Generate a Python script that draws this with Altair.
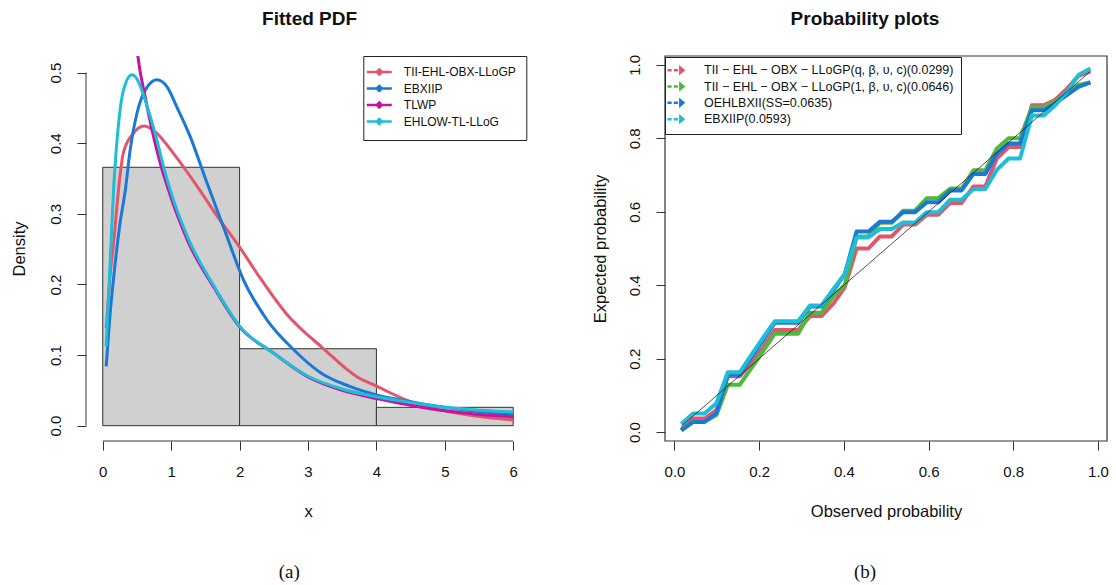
import altair as alt
import pandas as pd

# ---------------- Fitted PDF panel data ----------------
hist_left = [0, 2, 4]
hist_right = [2, 4, 6]
hist_base = [0, 0, 0]
hist_density = [0.366, 0.109, 0.026]

pdf_names = ["TII-EHL-OBX-LLoGP", "EBXIIP", "TLWP", "EHLOW-TL-LLoG"]
pdf_colors = ["#E2566B", "#1C78D6", "#C4139E", "#1EBDD8"]

tii_x = [0.05, 0.1, 0.17, 0.23, 0.3, 0.43, 0.61, 0.79, 1.03, 1.38, 1.7, 2.0, 2.26, 2.68, 3.22, 3.72, 4.0, 4.5, 5.0, 5.5, 6.0]
tii_y = [0.138, 0.205, 0.27, 0.334, 0.386, 0.412, 0.4245, 0.414, 0.386, 0.339, 0.293, 0.253, 0.215, 0.159, 0.1096, 0.069, 0.056, 0.034, 0.021, 0.013, 0.008]

ebx_x = [0.05, 0.1, 0.17, 0.25, 0.33, 0.4, 0.5, 0.62, 0.79, 0.94, 1.08, 1.28, 1.5, 1.8, 2.05, 2.4, 2.78, 3.2, 3.6, 4.0, 4.5, 5.0, 5.5, 6.0]
ebx_y = [0.084, 0.15, 0.22, 0.285, 0.334, 0.39, 0.4425, 0.475, 0.49, 0.48, 0.452, 0.409, 0.35, 0.272, 0.208, 0.15, 0.1086, 0.074, 0.056, 0.0435, 0.034, 0.026, 0.02, 0.016]

tlwp_x = [0.49, 0.514, 0.62, 0.72, 0.84, 0.96, 1.25, 1.63, 2.0, 2.5, 3.0, 3.5, 4.0, 4.5, 5.0, 5.5, 6.0]
tlwp_y = [0.545, 0.523, 0.466, 0.419, 0.372, 0.334, 0.26, 0.195, 0.14, 0.1025, 0.069, 0.05, 0.0385, 0.029, 0.021, 0.016, 0.0127]

ehl_x = [0.05, 0.1, 0.158, 0.231, 0.304, 0.426, 0.523, 0.596, 0.694, 0.79, 0.888, 0.986, 1.25, 1.63, 2.0, 2.5, 3.0, 3.5, 4.0, 4.5, 5.0, 5.5, 6.0]
ehl_y = [0.112, 0.215, 0.334, 0.428, 0.4755, 0.497, 0.487, 0.468, 0.438, 0.405, 0.367, 0.334, 0.265, 0.197, 0.141, 0.1025, 0.07, 0.052, 0.041, 0.033, 0.026, 0.022, 0.0195]

# ---------------- Probability plot panel data ----------------
pp_names = ["TII \u2212 EHL \u2212 OBX \u2212 LLoGP(q, \u03b2, \u03c5, c)(0.0299)",
            "TII \u2212 EHL \u2212 OBX \u2212 LLoGP(1, \u03b2, \u03c5, c)(0.0646)",
            "OEHLBXII(SS=0.0635)",
            "EBXIIP(0.0593)"]
pp_colors = ["#E2566B", "#4DBA3E", "#1C78D6", "#1EBDD8"]

observed = [0.016, 0.044, 0.071, 0.099, 0.126, 0.154, 0.182, 0.209, 0.237, 0.264, 0.292, 0.320,
            0.347, 0.375, 0.402, 0.430, 0.458, 0.485, 0.513, 0.540, 0.568, 0.596, 0.623, 0.651,
            0.678, 0.706, 0.734, 0.761, 0.789, 0.816, 0.844, 0.872, 0.899, 0.927, 0.954, 0.982]
exp_q = [0.007, 0.037, 0.037, 0.060, 0.152, 0.152, 0.190, 0.230, 0.278, 0.278, 0.278, 0.316,
         0.316, 0.350, 0.394, 0.500, 0.500, 0.533, 0.533, 0.565, 0.565, 0.592, 0.592, 0.624,
         0.624, 0.669, 0.669, 0.745, 0.776, 0.776, 0.890, 0.890, 0.905, 0.935, 0.970, 0.982]
exp_1 = [0.005, 0.029, 0.029, 0.047, 0.129, 0.129, 0.175, 0.220, 0.268, 0.268, 0.268, 0.325,
         0.325, 0.370, 0.400, 0.533, 0.533, 0.570, 0.570, 0.603, 0.603, 0.637, 0.637, 0.663,
         0.663, 0.713, 0.713, 0.772, 0.800, 0.800, 0.885, 0.885, 0.900, 0.925, 0.945, 0.952]
exp_oehl = [0.005, 0.028, 0.028, 0.051, 0.156, 0.156, 0.205, 0.250, 0.298, 0.298, 0.298, 0.342,
            0.342, 0.385, 0.430, 0.546, 0.546, 0.573, 0.573, 0.599, 0.599, 0.626, 0.626, 0.658,
            0.658, 0.703, 0.703, 0.758, 0.786, 0.786, 0.876, 0.876, 0.895, 0.918, 0.940, 0.952]
exp_ebx = [0.022, 0.051, 0.051, 0.079, 0.163, 0.163, 0.211, 0.257, 0.302, 0.302, 0.302, 0.345,
           0.345, 0.389, 0.430, 0.530, 0.530, 0.553, 0.553, 0.571, 0.571, 0.599, 0.599, 0.633,
           0.633, 0.662, 0.662, 0.714, 0.745, 0.745, 0.862, 0.862, 0.890, 0.927, 0.972, 0.990]
diag_pts = [0.016, 0.982]

# ---------------- layout / style ----------------
W1, W2, H = 444, 442, 385
FONT = "Liberation Sans"
AX = "#333333"
TXT = "#111111"

LEFT_SYM = "M-3.12,0H3.12M0,-0.63L0.63,0L0,0.63L-0.63,0Z"
RIGHT_SYM = "M-2.7,0H-1.65M-1.12,0H-0.08M0.52,-0.63L1.27,0L0.52,0.63Z"

# ---------- left panel ----------
xs1 = alt.Scale(domain=[-0.245, 6.245], nice=False, zero=False)
ys1 = alt.Scale(domain=[-0.0217, 0.5236], nice=False, zero=False)
x_axis1 = alt.Axis(values=[0, 1, 2, 3, 4, 5, 6], format="d", title="x", domain=False,
                   tickSize=9, tickColor=AX, labelPadding=21.7, labelBaseline="middle",
                   titleY=70.7, titleBaseline="middle")
y_axis1 = alt.Axis(values=[0, 0.1, 0.2, 0.3, 0.4, 0.5], format=".1f", title="Density",
                   domain=False, tickSize=9, tickColor=AX, labelAngle=270, labelAlign="center",
                   labelBaseline="middle", labelPadding=22, titleAngle=270, titleX=-67,
                   titleY=H / 2, titleAlign="center", titleBaseline="middle")

left_legend = alt.Legend(title=None, orient="none", legendX=277.3, legendY=0,
                         direction="vertical", strokeColor="#222222", fillColor="white",
                         padding=10, cornerRadius=0, symbolType=LEFT_SYM, symbolSize=64,
                         symbolStrokeWidth=2.5, labelOffset=18.5, labelFont=FONT,
                         labelFontSize=12, labelColor=TXT, rowPadding=0.5, labelLimit=400)
left_color = alt.Scale(domain=pdf_names, range=pdf_colors)

hist_df = pd.DataFrame({"x0": hist_left, "x1": hist_right, "y0": hist_base, "d": hist_density})
bars = alt.Chart(hist_df).mark_rect(fill="#D0D0D0", stroke=AX, strokeWidth=1).encode(
    x=alt.X("x0:Q", scale=xs1, axis=x_axis1), x2="x1:Q",
    y=alt.Y("y0:Q", scale=ys1, axis=y_axis1), y2="d:Q")


def pdf_curve(xv, yv, name, clip=False):
    df = pd.DataFrame({"x": xv, "y": yv, "model": [name] * len(xv)})
    return alt.Chart(df).mark_line(strokeWidth=3, interpolate="monotone", clip=clip).encode(
        x=alt.X("x:Q", scale=xs1, axis=x_axis1),
        y=alt.Y("y:Q", scale=ys1, axis=y_axis1),
        color=alt.Color("model:N", scale=left_color, legend=left_legend, sort=pdf_names))


c_tii = pdf_curve(tii_x, tii_y, pdf_names[0])
c_ebx = pdf_curve(ebx_x, ebx_y, pdf_names[1])
c_tlwp = pdf_curve(tlwp_x, tlwp_y, pdf_names[2], clip=True)
c_ehl = pdf_curve(ehl_x, ehl_y, pdf_names[3])

one = pd.DataFrame({"k": [0]})
x_line = alt.Chart(one).mark_rule(color=AX, strokeWidth=1).encode(
    x=alt.datum(0), x2=alt.datum(6), y=alt.value(H))
y_line = alt.Chart(one).mark_rule(color=AX, strokeWidth=1).encode(
    x=alt.value(0), y=alt.datum(0), y2=alt.datum(0.5))
anchor_tl = alt.Chart(one).mark_rule(strokeOpacity=0, strokeWidth=1).encode(
    x=alt.value(-85.2), y=alt.value(-55.5), y2=alt.value(-55))
title_a = alt.Chart(one).mark_text(text="Fitted PDF", font=FONT, fontSize=19, fontWeight="bold",
                                   color=TXT, baseline="alphabetic", align="center").encode(
    x=alt.value(W1 / 2 + 1.6), y=alt.value(-31.5))
cap_a = alt.Chart(one).mark_text(text="(a)", font="Liberation Serif", fontSize=19,
                                 color=TXT, baseline="middle").encode(
    x=alt.value(203.3), y=alt.value(516))

left = alt.layer(bars, c_tii, c_ebx, c_tlwp, c_ehl, x_line, y_line, anchor_tl, title_a,
                 cap_a).properties(width=W1, height=H)

# ---------- right panel ----------
xs2 = alt.Scale(domain=[-0.0224, 1.0213], nice=False, zero=False)
ys2 = alt.Scale(domain=[-0.024, 1.024], nice=False, zero=False)
x_axis2 = alt.Axis(values=[0, 0.2, 0.4, 0.6, 0.8, 1.0], format=".1f", title="Observed probability",
                   domain=False, tickSize=9, tickColor=AX, labelPadding=21.7,
                   labelBaseline="middle", titleY=70.7, titleBaseline="middle")
y_axis2 = alt.Axis(values=[0, 0.2, 0.4, 0.6, 0.8, 1.0], format=".1f", title="Expected probability",
                   domain=False, tickSize=9, tickColor=AX, labelAngle=270, labelAlign="center",
                   labelBaseline="middle", labelPadding=21.4, titleAngle=270, titleX=-65,
                   titleY=H / 2, titleAlign="center", titleBaseline="middle")
right_legend = alt.Legend(title=None, orient="none", legendX=0, legendY=1,
                          direction="vertical", strokeColor="#222222", fillColor="white",
                          padding=7, cornerRadius=0, symbolType=RIGHT_SYM, symbolSize=64,
                          symbolStrokeWidth=2.5, labelOffset=19.5, labelFont=FONT,
                          labelFontSize=12.5, labelColor=TXT, rowPadding=0.3, labelLimit=500)
right_color = alt.Scale(domain=pp_names, range=pp_colors)


def pp_line(yv, name):
    df = pd.DataFrame({"obs": observed, "exp": yv, "model": [name] * len(yv)})
    return alt.Chart(df).mark_line(strokeWidth=4, strokeJoin="round").encode(
        x=alt.X("obs:Q", scale=xs2, axis=x_axis2),
        y=alt.Y("exp:Q", scale=ys2, axis=y_axis2),
        color=alt.Color("model:N", scale=right_color, legend=right_legend, sort=pp_names))


l_q = pp_line(exp_q, pp_names[0])
l_1 = pp_line(exp_1, pp_names[1])
l_oehl = pp_line(exp_oehl, pp_names[2])
l_ebx = pp_line(exp_ebx, pp_names[3])

diag_df = pd.DataFrame({"obs": diag_pts, "exp": diag_pts})
diag = alt.Chart(diag_df).mark_line(color="#222222", strokeWidth=0.8).encode(
    x=alt.X("obs:Q", scale=xs2, axis=x_axis2), y=alt.Y("exp:Q", scale=ys2, axis=y_axis2))

box = alt.Chart(one).mark_rect(fillOpacity=0, stroke=AX, strokeWidth=1.2).encode(
    x=alt.value(0), x2=alt.value(W2), y=alt.value(0), y2=alt.value(H))
anchor_br = alt.Chart(one).mark_rule(strokeOpacity=0, strokeWidth=1).encode(
    x=alt.value(W2 + 8.5), y=alt.value(528), y2=alt.value(528.5))
title_b = alt.Chart(one).mark_text(text="Probability plots", font=FONT, fontSize=19,
                                   fontWeight="bold", color=TXT, baseline="alphabetic",
                                   align="center").encode(
    x=alt.value(W2 / 2 - 21), y=alt.value(-31.5))
cap_b = alt.Chart(one).mark_text(text="(b)", font="Liberation Serif", fontSize=19,
                                 color=TXT, baseline="middle").encode(
    x=alt.value(200), y=alt.value(516))

right = alt.layer(l_q, l_1, l_oehl, l_ebx, diag, box, anchor_br, title_b, cap_b).properties(
    width=W2, height=H)

chart = alt.hconcat(left, right, spacing=135, bounds="flush").resolve_scale(
    x="independent", y="independent", color="independent"
).resolve_legend(color="independent").properties(
    padding=0, background="white"
).configure_view(stroke="transparent").configure_axis(
    grid=False, labelFont=FONT, titleFont=FONT, labelFontSize=15, titleFontSize=16.5,
    titleFontWeight="normal", labelColor=TXT, titleColor=TXT
)

chart.save("out.html", embed_options={"renderer": "svg", "actions": False})
